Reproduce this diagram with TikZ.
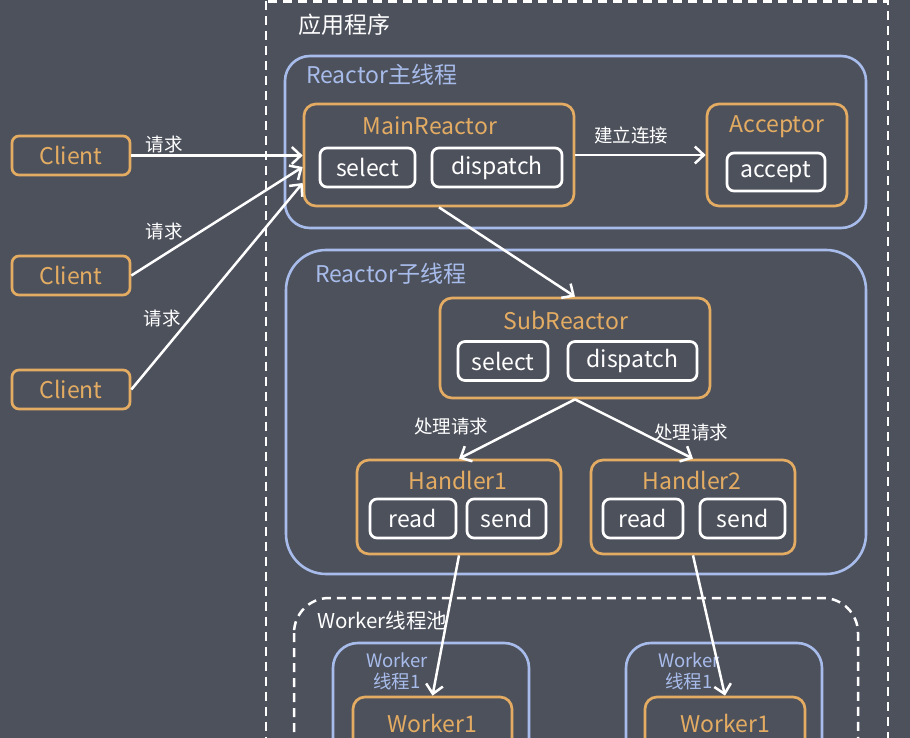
\documentclass[tikz,border=0pt]{standalone}
\usepackage{fontspec}
\setmainfont{Noto Sans CJK SC}
\usetikzlibrary{arrows.meta}
\definecolor{bg}{RGB}{77,81,92}
\definecolor{ora}{RGB}{228,172,98}
\definecolor{blu}{RGB}{168,188,235}
\tikzset{
  fs/.style={font=\fontsize{#1}{#1}\selectfont},
  obox/.style={draw=ora, line width=2.7pt, rounded corners=12pt, inner sep=0pt},
  wbox/.style={draw=white, line width=2.7pt, rounded corners=7pt, inner sep=0pt, text=white, fs=23},
  bbox/.style={draw=blu, line width=2.6pt, inner sep=0pt},
  otext/.style={text=ora, fs=23, inner sep=0pt},
  btext/.style={text=blu, fs=23, inner sep=0pt, anchor=west},
  lab/.style={text=white, fs=18.5, inner sep=0pt},
  arr/.style={draw=white, line width=2.5pt, -{Straight Barb[length=9pt,width=17pt,line width=2.5pt]}},
  dash box/.style={draw=white, line width=2.5pt, dash pattern=on 9pt off 6pt},
  client/.style={obox, rounded corners=7pt, minimum width=118pt, minimum height=39pt, text=ora, fs=23},
}
\begin{document}
\begin{tikzpicture}[x=1pt,y=-1pt]
\useasboundingbox (0,0) rectangle (910,738);
\clip (0,0) rectangle (910,738);
\fill[bg] (0,0) rectangle (910,738);

% application frame
\draw[dash box] (266,1.5) rectangle (888,780);
\node[text=white, fs=23, inner sep=0pt, anchor=west] (app) at (298,25) {应用程序};

% Reactor main thread
\node[bbox, rounded corners=25pt, minimum width=581pt, minimum height=172pt] (mainth) at (575.5,142) {};
\node[btext] (mainthT) at (306,75) {Reactor主线程};

\node[obox, minimum width=270pt, minimum height=102pt] (main) at (439,155) {};
\node[otext] (mainT) at (430,126) {MainReactor};
\node[wbox, minimum width=95pt, minimum height=39pt] (msel) at (367.5,167.5) {select};
\node[wbox, minimum width=130pt, minimum height=39pt] (mdis) at (497,167.5) {dispatch};

\node[obox, minimum width=140pt, minimum height=102pt] (acc) at (777,155) {};
\node[otext] (accT) at (777,127) {Acceptor};
\node[wbox, minimum width=98pt, minimum height=38pt] (acca) at (776,172) {accept};

\draw[arr] (main.east|-acc) -- (acc.west) node[lab, pos=0.43, above=10pt] {建立连接};

% clients
\node[client] (c1) at (71,155.5) {Client};
\node[client] (c2) at (71,275.5) {Client};
\node[client] (c3) at (71,389.5) {Client};

\draw[arr] (c1.east) -- (main.west|-c1);
\draw[arr] (c2.east) -- ([yshift=-12pt]main.west);
\draw[arr] (c3.east) -- ([yshift=-28pt]main.west);
\node[lab] (l1) at (164,144) {请求};
\node[lab] (l2) at (164,231) {请求};
\node[lab] (l3) at (162,318) {请求};

% Reactor sub thread
\node[bbox, rounded corners=40pt, minimum width=580pt, minimum height=324pt] (subth) at (576,412) {};
\node[btext] (subthT) at (315,274) {Reactor子线程};

\node[obox, minimum width=270pt, minimum height=100pt] (sub) at (575,348) {};
\node[otext] (subT) at (566,320) {SubReactor};
\node[wbox, minimum width=90pt, minimum height=39pt] (ssel) at (503,361) {select};
\node[wbox, minimum width=129pt, minimum height=39pt] (sdis) at (632.5,361) {dispatch};

\draw[arr] (main.south) -- (sub.north);

% handlers
\node[obox, minimum width=204pt, minimum height=94pt] (h1) at (459,507) {};
\node[otext] (h1T) at (458,480) {Handler1};
\node[wbox, minimum width=86pt, minimum height=39pt] (h1r) at (413,518.5) {read};
\node[wbox, minimum width=79pt, minimum height=39pt] (h1s) at (506.5,518.5) {send};

\node[obox, minimum width=204pt, minimum height=94pt] (h2) at (693,507) {};
\node[otext] (h2T) at (692,480) {Handler2};
\node[wbox, minimum width=80pt, minimum height=39pt] (h2r) at (643,518.5) {read};
\node[wbox, minimum width=85pt, minimum height=39pt] (h2s) at (742.5,518.5) {send};

\draw[arr] (sub.south) -- (h1.north);
\draw[arr] (sub.south) -- (h2.north);
\node[lab] (l4) at (451,426) {处理请求};
\node[lab] (l5) at (691,432) {处理请求};

% worker pool
\draw[dash box, rounded corners=35pt] (294,598) rectangle (858,850);
\node[text=white, fs=20.5, inner sep=0pt, anchor=west] (poolT) at (317,621) {Worker线程池};

\node[bbox, rounded corners=25pt, minimum width=196pt, minimum height=160pt] (wt1) at (431,723) {};
\node[text=blu, inner sep=0pt, align=center, font=\fontsize{18.5}{21}\selectfont] (wt1T) at (397,671) {Worker\\线程1};
\node[obox, minimum width=159pt, minimum height=100pt] (w1) at (432.5,747) {};
\node[otext] (w1T) at (432.5,723) {Worker1};

\node[bbox, rounded corners=25pt, minimum width=196pt, minimum height=160pt] (wt2) at (724,723) {};
\node[text=blu, inner sep=0pt, align=center, font=\fontsize{18.5}{21}\selectfont] (wt2T) at (689,671) {Worker\\线程1};
\node[obox, minimum width=160pt, minimum height=100pt] (w2) at (725,747) {};
\node[otext] (w2T) at (725,723) {Worker1};

\draw[arr] (h1.south) -- (w1.north);
\draw[arr] (h2.south) -- (w2.north);
\end{tikzpicture}
\end{document}
